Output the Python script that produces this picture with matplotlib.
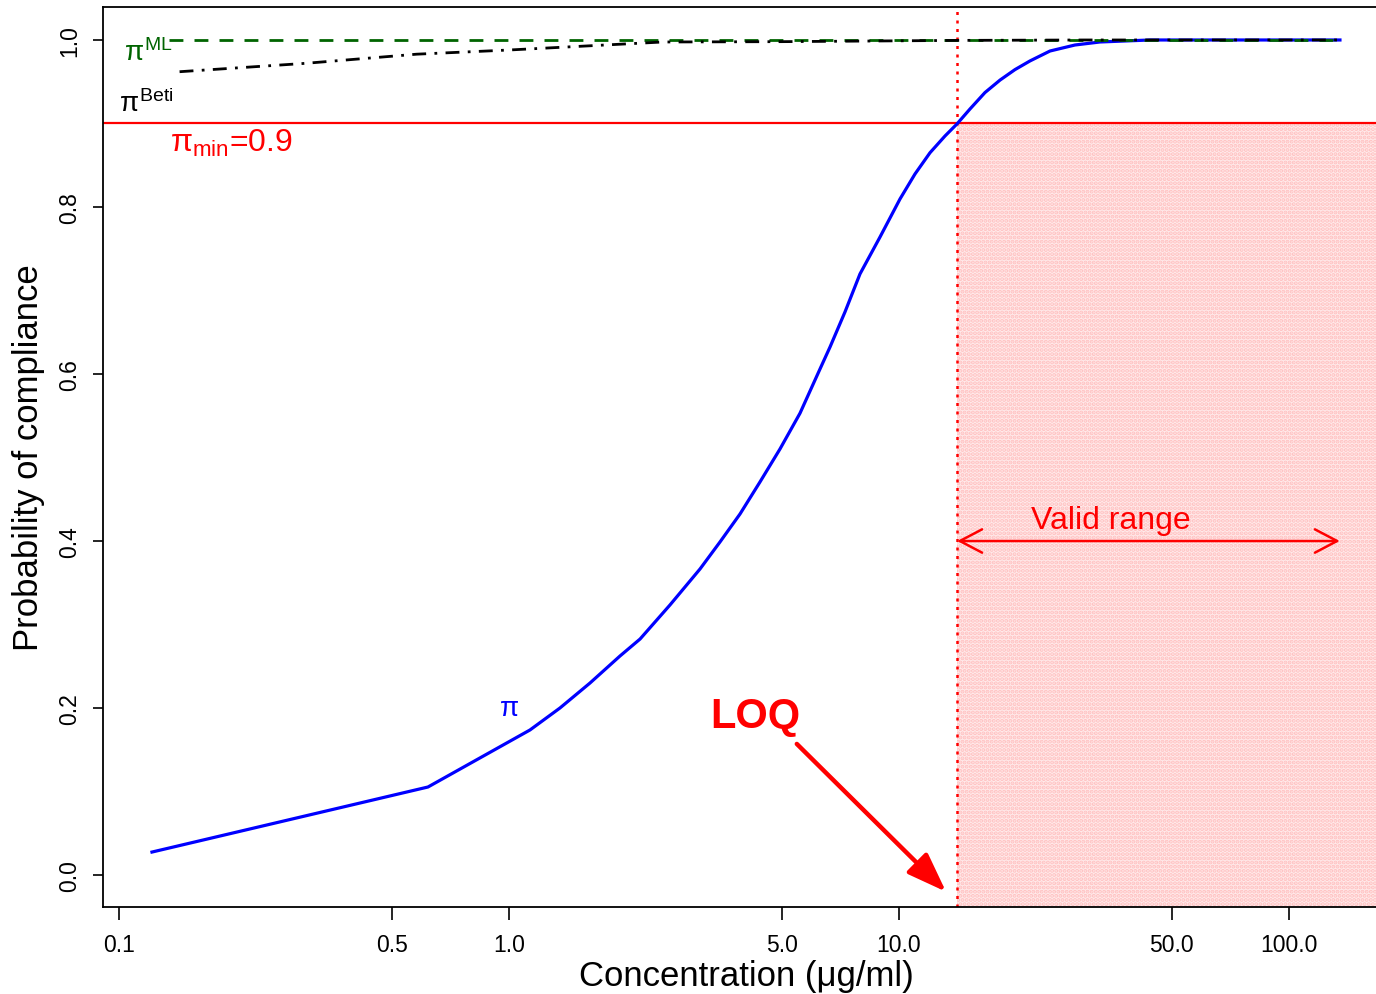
import numpy as np
import matplotlib
matplotlib.use("Agg")
import matplotlib.pyplot as plt

plt.rcParams['font.family'] = ['Liberation Sans', 'DejaVu Sans']
plt.rcParams['mathtext.fontset'] = 'custom'
plt.rcParams['mathtext.rm'] = 'Liberation Sans'
plt.rcParams['mathtext.it'] = 'Liberation Sans'
plt.rcParams['mathtext.bf'] = 'Liberation Sans:bold'
plt.rcParams['hatch.linewidth'] = 2.0

# ---- data ----
conc_pi = [0.1215, 0.6198, 1.132, 1.351, 1.613, 1.926, 2.168, 2.587, 3.089, 3.475, 3.911,
           4.401, 4.953, 5.574, 6.273, 6.655, 7.270, 7.943, 8.939, 10.06, 10.99, 12.01,
           13.12, 14.08, 15.21, 16.61, 18.16, 19.83, 21.67, 24.39, 28.27, 32.76, 44.01, 135.1]
prob_pi = [0.0275, 0.1054, 0.1737, 0.2000, 0.2299, 0.2623, 0.2826, 0.3234, 0.3665, 0.3988,
           0.4323, 0.4707, 0.5102, 0.5530, 0.6060, 0.6323, 0.6743, 0.7198, 0.7640, 0.8096,
           0.8395, 0.8650, 0.8850, 0.8994, 0.9174, 0.9370, 0.9520, 0.9645, 0.9749, 0.9868,
           0.9940, 0.9976, 1.0, 1.0]

conc_beti = [0.143, 0.3, 0.58, 1.0, 2.48, 5.0, 10.0, 14.0, 30.0, 135.0]
prob_beti = [0.962, 0.972, 0.983, 0.988, 0.9976, 0.998, 0.999, 0.9995, 1.0, 1.0]

conc_ml = [0.134, 135.0]
prob_ml = [1.0, 1.0]

pi_min = 0.9
loq = 14.1
valid_max = 135.0
x_ticks = [0.1, 0.5, 1.0, 5.0, 10.0, 50.0, 100.0]
x_tick_labels = ['0.1', '0.5', '1.0', '5.0', '10.0', '50.0', '100.0']
y_ticks = [0.0, 0.2, 0.4, 0.6, 0.8, 1.0]
y_tick_labels = ['0.0', '0.2', '0.4', '0.6', '0.8', '1.0']

W, H = 1376, 995
fig = plt.figure(figsize=(W / 100, H / 100), dpi=100)
left_px, right_px, top_px, bot_px = 103, 1390, 8, 908
ax = fig.add_axes([left_px / W, (H - bot_px) / H, (right_px - left_px) / W, (bot_px - top_px) / H])

xmin = 10 ** -1.041
xmax = 10 ** (-1.041 + (right_px - left_px) / 390.0)
ax.set_xscale('log')
ax.set_xlim(xmin, xmax)
ax.set_ylim(-0.0383, 1.0395)

red = '#ff0000'

# shaded valid region
ax.fill_between([loq, xmax], [-0.0383, -0.0383], [pi_min, pi_min],
                facecolor='#ffeaea', edgecolor='#ffc0c0', hatch='....', linewidth=0, zorder=0)

ax.plot(conc_pi, prob_pi, color='#0000ff', lw=2.3, zorder=3)
ax.plot(conc_ml, prob_ml, color='#006400', lw=2.0, dashes=(5, 4), zorder=4)
ax.plot(conc_beti, prob_beti, color='black', lw=2.0, dashes=(5, 3, 1, 3), zorder=5)

ax.axhline(pi_min, color=red, lw=1.6, zorder=2)
ax.axvline(loq, color=red, lw=1.8, dashes=(1.2, 2.2), zorder=2)

# valid range arrow
ax.annotate('', xy=(valid_max, 0.4), xytext=(loq, 0.4),
            arrowprops=dict(arrowstyle='<->,head_length=0.8,head_width=0.42', color=red,
                            lw=1.8, shrinkA=0, shrinkB=0, mutation_scale=20), zorder=6)
ax.text(35.0, 0.425, 'Valid range', color=red, fontsize=23,
        ha='center', va='center')

# LOQ arrow
ax.annotate('', xy=(13.2, -0.02), xytext=(5.47, 0.157),
            arrowprops=dict(arrowstyle='-|>,head_length=1.1,head_width=0.4', color=red,
                            lw=3.2, shrinkA=0, shrinkB=0, mutation_scale=22), zorder=6)
ax.text(4.27, 0.19, 'LOQ', color=red, fontsize=30, fontweight='bold', ha='center', va='center')

# labels on curves
ax.text(1.0, 0.2, r'$\pi$', color='#0000ff', fontsize=20, ha='center', va='center')
ax.text(0.103, 0.985, r'$\pi^{\rm ML}$', color='#006400', fontsize=20, ha='left', va='center')
ax.text(0.1, 0.925, r'$\pi^{\rm Beti}$', color='black', fontsize=20, ha='left', va='center')
ax.text(0.135, 0.877, r'$\pi_{\rm min}$=0.9', color=red, fontsize=23, ha='left', va='center')

ax.set_xticks(x_ticks)
ax.set_xticklabels(x_tick_labels)
ax.xaxis.set_minor_locator(matplotlib.ticker.NullLocator())
ax.set_yticks(y_ticks)
ax.set_yticklabels(y_tick_labels, rotation=90, va='center')

ax.tick_params(axis='x', length=9, width=1.2, pad=10, labelsize=16.5)
ax.tick_params(axis='y', length=7.5, width=1.2, pad=8, labelsize=16.5)
for s in ['left', 'bottom', 'top']:
    ax.spines[s].set_linewidth(1.3)
ax.spines['right'].set_visible(False)

ax.set_xlabel('Concentration (\u03bcg/ml)', fontsize=25, labelpad=2)
ax.set_ylabel('Probability of compliance', fontsize=25, labelpad=10)

fig.savefig('out.png', dpi=100)
